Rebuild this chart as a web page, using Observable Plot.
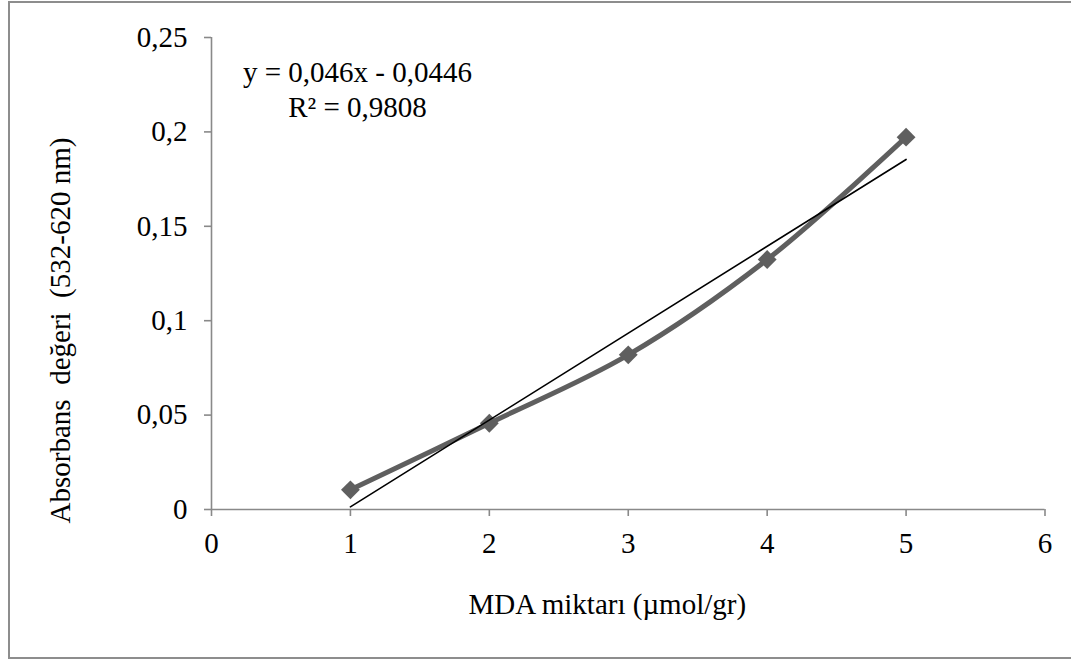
<!DOCTYPE html>
<html><head><meta charset="utf-8">
<script src="https://cdn.jsdelivr.net/npm/d3@7"></script>
<script src="https://cdn.jsdelivr.net/npm/@observablehq/plot@0.6"></script>
<style>
html,body{margin:0;padding:0;background:#fff;overflow:hidden;}
#wrap{position:relative;width:1071px;height:660px;overflow:hidden;}
#border{position:absolute;left:8px;top:0.5px;width:1100px;height:658px;border:2px solid #8d8d8d;box-sizing:border-box;pointer-events:none;}
svg text{white-space:pre;}
</style></head><body><div id="wrap"><div id="chart"></div><div id="border"></div></div>
<script>
const mdaAmount = [1, 2, 3, 4, 5];
const absorbance = [0.0104, 0.0457, 0.0819, 0.1324, 0.1972];
const xTicks = [0, 1, 2, 3, 4, 5, 6];
const yTicks = [0, 0.05, 0.1, 0.15, 0.2, 0.25];
const trendSlope = 0.046;
const trendIntercept = -0.0446;
const trendX = [1, 5];
const equationText = "y = 0,046x - 0,0446\nR² = 0,9808";
const xLabel = "MDA miktarı (µmol/gr)";
const yLabel = "Absorbans  değeri  (532-620 nm)";

const series = mdaAmount.map((x, i) => ({x, y: absorbance[i]}));
const trend = trendX.map(x => ({x, y: trendSlope * x + trendIntercept}));
const comma = d => String(d).replace(".", ",");
const axisGray = "#898989";
const serieGray = "#5f5f5f";

const chart = Plot.plot({
  width: 1071, height: 660,
  marginLeft: 211, marginRight: 26.5, marginTop: 37, marginBottom: 151,
  style: {fontFamily: '"Liberation Serif","Times New Roman",serif', fontSize: "29px", color: "#000", background: "transparent", overflow: "visible"},
  x: {domain: [0, 6], label: null},
  y: {domain: [0, 0.25], label: null},
  marks: [
    Plot.ruleX([0], {stroke: axisGray, strokeWidth: 1.6}),
    Plot.ruleY([0], {stroke: axisGray, strokeWidth: 1.6}),
    Plot.axisX({ticks: xTicks, tickSize: 7, tickPadding: 16, stroke: axisGray, strokeWidth: 1.6, fill: "#000", tickFormat: d => String(d), label: null, fontSize: 29}),
    Plot.axisY({ticks: yTicks, tickSize: 7, tickPadding: 17, stroke: axisGray, strokeWidth: 1.6, fill: "#000", tickFormat: comma, label: null, fontSize: 29}),
    Plot.line(series, {x: "x", y: "y", curve: "catmull-rom", stroke: serieGray, strokeWidth: 5, strokeLinejoin: "round"}),
    Plot.dot(series, {x: "x", y: "y", symbol: "diamond2", r: 8.5, fill: serieGray, stroke: "none"}),
    Plot.line(trend, {x: "x", y: "y", stroke: "#000", strokeWidth: 1.6}),
    Plot.text([equationText], {frameAnchor: "top-left", dx: 146, dy: 19.5, textAnchor: "middle", lineAnchor: "top", lineHeight: 1.2, fontSize: 29, fill: "#000"}),
    Plot.text([xLabel], {frameAnchor: "bottom", dx: -21, dy: 95, textAnchor: "middle", lineAnchor: "middle", fontSize: 29, fill: "#000"}),
    Plot.text([yLabel], {frameAnchor: "left", rotate: -90, dx: -151, dy: 57, textAnchor: "middle", lineAnchor: "middle", fontSize: 29, fill: "#000"})
  ]
});
document.getElementById("chart").appendChild(chart);
</script>
</body></html>
